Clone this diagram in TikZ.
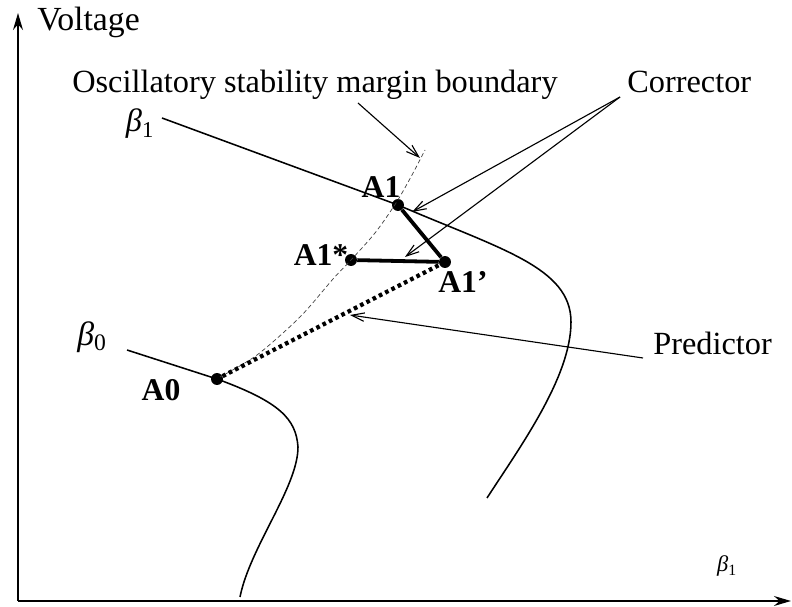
\documentclass[tikz,border=0pt]{standalone}
\usepackage{fontspec}
\setmainfont{Liberation Serif}
\usetikzlibrary{arrows.meta}

\begin{document}
\begin{tikzpicture}[x=.025cm,y=.025cm,
 axis/.style={line width=1.8pt,-{Stealth[length=12pt,width=7pt]}},
 curve/.style={line width=1.1pt},
 bound/.style={line width=.5pt,dash pattern=on 3pt off 2pt,black!75},
 corr/.style={line width=2.7pt},
 pred/.style={line width=3pt,dash pattern=on 2.6pt off 2.4pt},
 ptr/.style={line width=.8pt,-{Straight Barb[length=9pt,width=6pt]}},
 dot/.style={circle,fill,inner sep=0pt,minimum size=8.5pt},
 lbl/.style={font=\fontsize{23}{27}\selectfont,inner sep=0pt},
 pt/.style={font=\fontsize{22.5}{26}\bfseries\selectfont,inner sep=0pt}]
 \useasboundingbox (0,0) rectangle (792,607);
 % axes
 \coordinate (o) at (18,6);
 \coordinate (ytop) at (18,594);
 \coordinate (xend) at (791,6);
 \draw[axis] (o)--(ytop);
 \draw[axis] (o)--(xend);
 \node[lbl,anchor=base west,font=\fontsize{24}{28}\selectfont] (volt) at (37,576) {Voltage};
 \node[inner sep=0pt,font=\fontsize{16}{19}\selectfont] (bx) at (727,41) {\textit{β}\textsubscript{1}};
 % points
 \node[dot] (a1) at (398,402) {};
 \node[dot] (a1s) at (351,347) {};
 \node[dot] (a1p) at (445,345) {};
 \node[dot] (a0) at (217,228) {};
 \node[pt] at (381,420) {A1};
 \node[pt] at (321,352) {A1*};
 \node[pt] at (463,325) {A1’};
 \node[pt] at (161,217) {A0};
 % beta curves
 \node[inner sep=0pt,font=\fontsize{23}{27}\selectfont] (b1) at (140,483) {\textit{β}\textsubscript{1}};
 \node[inner sep=0pt,font=\fontsize{24}{28}\selectfont] (b0) at (92,270) {\textit{β}\textsubscript{0}};
 \draw[curve] (162,489)--(a1.center) .. controls (500,358) and (571,340) .. (571,285)
   .. controls (571,230) and (520,160) .. (487,109);
 \draw[curve] (127,257)--(a0.center) .. controls (280,205) and (296,188) .. (298,160)
   .. controls (298,120) and (250,60) .. (240,10);
 % stability boundary
 \draw[bound] plot[smooth] coordinates {(220,230) (257,252) (300,290) (333,328) (351,347) (375,374) (396,404) (412,432) (425,457)};
 % predictor / corrector
 \draw[pred] (a0)--(a1p);
 \draw[corr] (a1)--(a1p);
 \draw[corr] (a1s)--(a1p);
 % labels with pointers
 \node[lbl,anchor=base west] (osc) at (72,514) {Oscillatory stability margin boundary};
 \node[lbl,anchor=base west] (cor) at (627,514) {Corrector};
 \node[lbl,anchor=base west] (prd) at (653,252) {Predictor};
 \coordinate (oscf) at (358,504);
 \coordinate (osct) at (420,449);
 \coordinate (corf) at (620,510);
 \coordinate (cort1) at (412,395);
 \coordinate (cort2) at (405,350);
 \coordinate (prdf) at (643,249);
 \coordinate (prdt) at (350,292);
 \draw[ptr] (oscf)--(osct);
 \draw[ptr] (corf)--(cort1);
 \draw[ptr] (corf)--(cort2);
 \draw[ptr] (prdf)--(prdt);
\end{tikzpicture}
\end{document}
